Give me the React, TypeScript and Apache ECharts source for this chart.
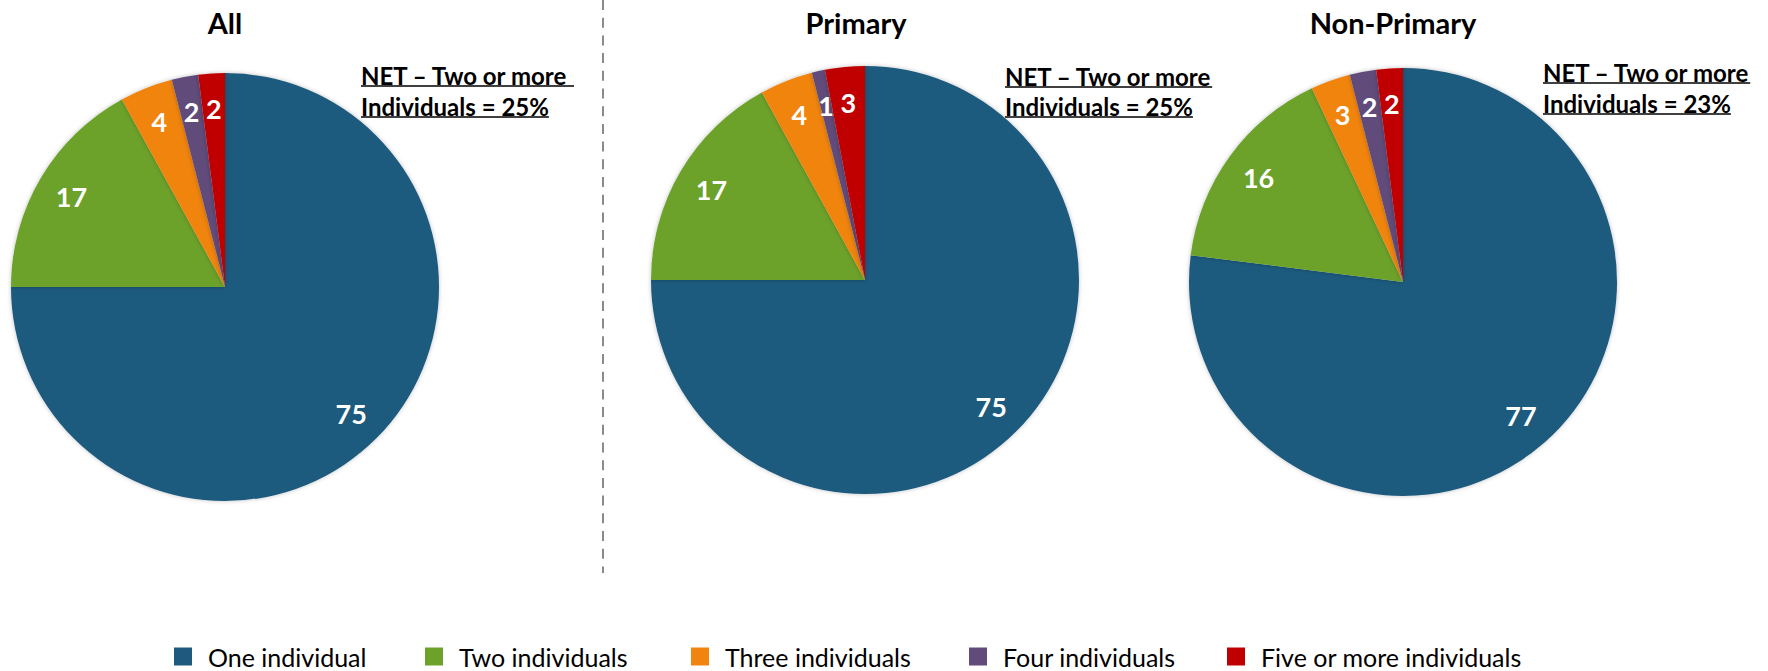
import React, { useEffect, useRef } from 'react';
import * as echarts from 'echarts';

const categories = ['One individual', 'Two individuals', 'Three individuals', 'Four individuals', 'Five or more individuals'];
const colors = ['#1F5A7E', '#6CA12A', '#F0840F', '#614B7A', '#C00000'];
const panelTitles = ['All', 'Primary', 'Non-Primary'];
const allValues = [75, 17, 4, 2, 2];
const primaryValues = [75, 17, 4, 1, 3];
const nonPrimaryValues = [77, 16, 3, 2, 2];
const netLine1 = ['NET – Two or more ', 'NET – Two or more', 'NET – Two or more'];
const netLine2 = ['Individuals = 25%', 'Individuals = 25%', 'Individuals = 23%'];

const panelValues = [allValues, primaryValues, nonPrimaryValues];

const R = 214;
const centers = [[225, 287], [865, 280], [1403, 282]];
const titleX = [225, 856, 1393];
const netX = [361, 1005, 1543];
const netY1 = [75, 76, 72];
const netY2 = [106, 106, 103];
const legendLeft = [174, 425, 691, 969, 1227];
const FONT = 'Lato, "Open Sans", sans-serif';
const NET_SIZE = 24;

function measure(text: string, font: string): number {
  const c = document.createElement('canvas');
  const ctx = c.getContext('2d');
  if (!ctx) return text.length * 11;
  ctx.font = font;
  return ctx.measureText(text).width;
}

export default function App() {
  const ref = useRef<HTMLDivElement>(null);
  useEffect(() => {
    if (!ref.current) return;
    const chart = echarts.init(ref.current, undefined, { renderer: 'svg' });

    const mainSeries = panelValues.map((vals, i) => ({
      type: 'pie',
      center: centers[i],
      radius: R,
      startAngle: 90,
      clockwise: true,
      silent: true,
      label: { show: false },
      labelLine: { show: false },
      itemStyle: { borderWidth: 0, shadowBlur: 4, shadowColor: 'rgba(0,0,0,0.25)' },
      emphasis: { disabled: true },
      data: vals.map((v, j) => ({ name: categories[j], value: v, itemStyle: { color: colors[j] } })),
    }));
    const labelSeries = panelValues.map((vals, i) => ({
      type: 'pie',
      center: centers[i],
      radius: [R * 0.64, R],
      startAngle: 90,
      clockwise: true,
      silent: true,
      avoidLabelOverlap: false,
      itemStyle: { color: 'transparent', borderWidth: 0 },
      label: {
        show: true,
        position: 'inside',
        formatter: '{c}',
        color: '#ffffff',
        fontWeight: 'bold',
        fontSize: 27,
        fontFamily: FONT,
      },
      labelLine: { show: false },
      emphasis: { disabled: true },
      data: vals.map((v, j) => ({ name: categories[j], value: v })),
    }));

    const graphics: any[] = [];
    panelTitles.forEach((t, i) => {
      graphics.push({
        type: 'text',
        x: titleX[i],
        y: 22,
        style: { text: t, fill: '#000', fontSize: 29, fontWeight: 'bold', fontFamily: FONT, align: 'center', verticalAlign: 'middle' },
      });
      const f = `bold ${NET_SIZE}px Lato`;
      const w1 = measure(netLine1[i], f);
      const w2 = measure(netLine2[i], f);
      [[netLine1[i], netY1[i], w1], [netLine2[i], netY2[i], w2]].forEach(([txt, y, w]: any) => {
        graphics.push({
          type: 'text',
          x: netX[i],
          y,
          style: { text: txt, fill: '#000', fontSize: NET_SIZE, fontWeight: 'bold', fontFamily: FONT, align: 'left', verticalAlign: 'middle' },
        });
        graphics.push({
          type: 'line',
          shape: { x1: netX[i], y1: y + 11, x2: netX[i] + w, y2: y + 11 },
          style: { stroke: '#000', lineWidth: 1.5 },
        });
      });
    });
    graphics.push({
      type: 'line',
      shape: { x1: 603, y1: 0, x2: 603, y2: 573 },
      style: { stroke: '#8a8a8a', lineWidth: 2, lineDash: [10, 7.7] },
    });

    chart.setOption({
      animation: false,
      backgroundColor: '#ffffff',
      legend: categories.map((c, j) => ({
        left: legendLeft[j],
        top: 644,
        padding: 0,
        icon: 'rect',
        itemWidth: 18,
        itemHeight: 18,
        selectedMode: false,
        data: [{ name: c, itemStyle: { color: colors[j] } }],
        textStyle: { fontFamily: FONT, fontSize: 25, color: '#000', padding: [0, 0, 0, 11] },
      })),
      series: [...mainSeries, ...labelSeries],
      graphic: graphics,
    });
    return () => chart.dispose();
  }, []);
  return <div ref={ref} style={{ position: 'absolute', left: 0, top: 0, width: 1768, height: 671 }} />;
}
